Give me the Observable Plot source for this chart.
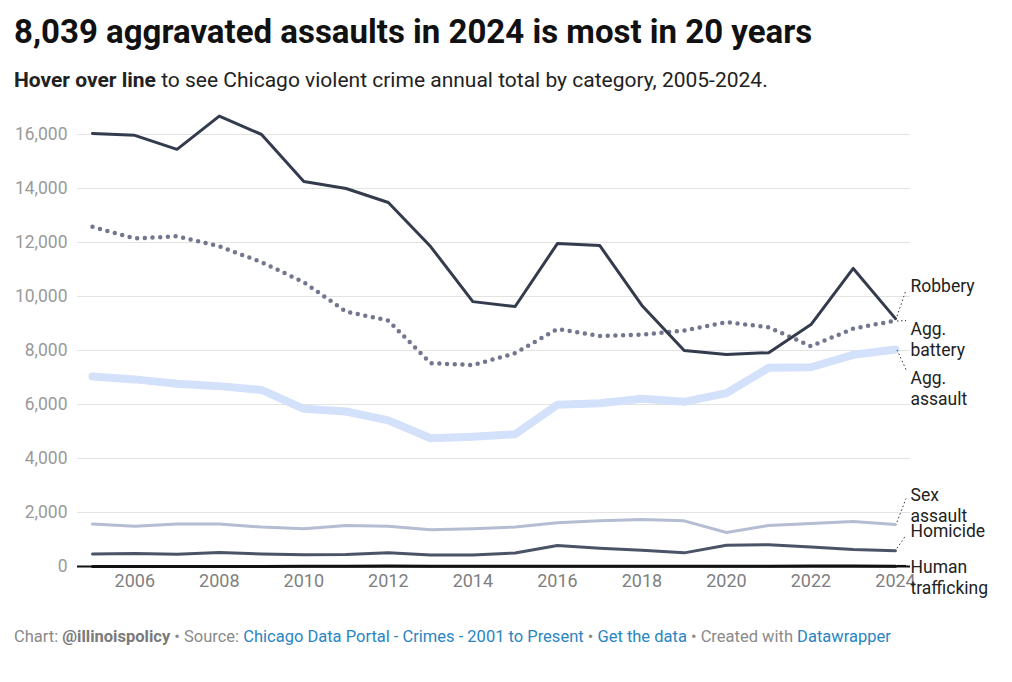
<!DOCTYPE html>
<html>
<head>
<meta charset="utf-8">
<script src="https://cdn.jsdelivr.net/npm/d3@7"></script>
<script src="https://cdn.jsdelivr.net/npm/@observablehq/plot@0.6"></script>
<style>
  html, body { margin: 0; padding: 0; background: #fff; }
  body { width: 1012px; height: 682px; position: relative; font-family: Roboto, "Noto Sans", sans-serif; overflow: hidden; }
  #title { position: absolute; left: 14px; top: 12px; font-size: 33px; font-weight: 700; color: #111; line-height: 40px; white-space: nowrap; }
  #subtitle { position: absolute; left: 14px; top: 66px; font-size: 21px; color: #222; line-height: 28px; white-space: nowrap; }
  #chart { position: absolute; left: 0; top: 100px; }
  #footer { position: absolute; left: 14px; top: 626px; font-size: 16.5px; color: #8a8a8a; line-height: 22px; white-space: nowrap; }
  #footer a { color: #2a85c2; text-decoration: none; }
  #footer b { font-weight: 700; color: #7a7a7a; }
</style>
</head>
<body>
<div id="title">8,039 aggravated assaults in 2024 is most in 20 years</div>
<div id="subtitle"><b>Hover over line</b> to see Chicago violent crime annual total by category, 2005-2024.</div>
<div id="chart"></div>
<div id="footer">Chart: <b>@illinoispolicy</b> • Source: <a>Chicago Data Portal - Crimes - 2001 to Present</a> • <a>Get the data</a> • Created with <a>Datawrapper</a></div>
<script>
// ---- data ----
const years = [2005,2006,2007,2008,2009,2010,2011,2012,2013,2014,2015,2016,2017,2018,2019,2020,2021,2022,2023,2024];
const robbery = [16040,15970,15450,16680,16000,14260,14000,13480,11850,9810,9630,11960,11890,9670,8000,7850,7920,8960,11040,9180];
const aggBattery = [12580,12150,12230,11860,11270,10530,9440,9110,7530,7460,7900,8800,8540,8590,8740,9050,8860,8160,8810,9110];
const aggAssault = [7040,6930,6770,6680,6540,5840,5740,5410,4750,4810,4900,5990,6050,6210,6100,6420,7360,7380,7840,8039];
const sexAssault = [1570,1490,1570,1575,1460,1400,1520,1490,1360,1400,1460,1620,1690,1740,1690,1260,1520,1590,1670,1555];
const homicide = [460,480,450,520,465,435,440,510,425,430,500,780,680,600,505,785,805,720,630,585];
const humanTrafficking = [0,0,1,2,3,5,6,14,11,12,10,10,12,13,12,6,11,17,14,12];
const seriesNames = ["Robbery","Agg. battery","Agg. assault","Sex assault","Homicide","Human trafficking"];
const labelTexts = ["Robbery","Agg.\nbattery","Agg.\nassault","Sex\nassault","Homicide","Human\ntrafficking"];
const yTicks = [0,2000,4000,6000,8000,10000,12000,14000,16000];
const xTicks = [2006,2008,2010,2012,2014,2016,2018,2020,2022,2024];

// ---- styles (layout only) ----
const seriesValues = [robbery, aggBattery, aggAssault, sexAssault, homicide, humanTrafficking];
const styles = {
  "Robbery":          {stroke: "#333b4d", width: 3, dash: null, labelDy: -33, connector: "dotted"},
  "Agg. battery":     {stroke: "#72778f", width: 4.5, dash: "0,7.7", labelDy: 18, connector: "dotted"},
  "Agg. assault":     {stroke: "#d4e1fa", width: 8, dash: null, labelDy: 38, connector: "dotted"},
  "Sex assault":      {stroke: "#b5bdd2", width: 3, dash: null, labelDy: -20, connector: "dotted"},
  "Homicide":         {stroke: "#4b5367", width: 3, dash: null, labelDy: -20, connector: "dotted"},
  "Human trafficking":{stroke: "#111111", width: 3, dash: null, labelDy: 10.5, connector: "solid"}
};
const drawOrder = ["Agg. assault","Sex assault","Homicide","Agg. battery","Robbery","Human trafficking"];
const labelFont = 17.5, labelLineHeight = 1.2;

const rows = [];
seriesNames.forEach((name, i) => {
  years.forEach((yr, j) => rows.push({series: name, year: yr, value: seriesValues[i][j]}));
});
const lastRows = seriesNames.map((name, i) => ({
  series: name, label: labelTexts[i], year: years[years.length - 1], value: seriesValues[i][years.length - 1]
}));

const lineMarks = drawOrder.map(name => {
  const s = styles[name];
  return Plot.line(rows.filter(r => r.series === name), {
    x: "year", y: "value", stroke: s.stroke, strokeWidth: s.width,
    strokeDasharray: s.dash, strokeLinecap: "round", strokeLinejoin: "round"
  });
});

const labelMarks = lastRows.map(r => Plot.text([r], {
  x: "year", y: "value", text: "label", dx: 15, dy: styles[r.series].labelDy,
  textAnchor: "start", lineAnchor: "middle", lineHeight: labelLineHeight,
  fontSize: labelFont, fill: "#222"
}));

const lineHeightPx = labelFont * labelLineHeight;
function connectors(index, scales) {
  const g = d3.create("svg:g");
  lastRows.forEach(r => {
    const s = styles[r.series];
    const x0 = scales.x(r.year), y0 = scales.y(r.value);
    const nLines = r.label.split("\n").length;
    const center = y0 + s.labelDy;
    const firstLine = center - (nLines - 1) * lineHeightPx / 2;
    let yEnd;
    if (s.connector === "solid") yEnd = y0;
    else if (firstLine < y0) yEnd = Math.min(firstLine + 5, y0);
    else yEnd = Math.max(firstLine - 7, y0);
    g.append("line")
      .attr("x1", x0 + 2).attr("y1", y0 + (yEnd < y0 ? -2 : yEnd > y0 ? 1 : 0))
      .attr("x2", x0 + 11).attr("y2", yEnd)
      .attr("stroke", s.connector === "solid" ? "#111" : "#333")
      .attr("stroke-width", s.connector === "solid" ? 1.5 : 1)
      .attr("stroke-dasharray", s.connector === "solid" ? null : "1.5,2.5");
  });
  return g.node();
}

const chart = Plot.plot({
  width: 1012,
  height: 500,
  marginLeft: 92,
  marginRight: 117,
  marginTop: 34,
  marginBottom: 34,
  style: {fontFamily: "Roboto, sans-serif", background: "transparent", overflow: "visible"},
  x: {type: "linear", domain: [2005, 2024]},
  y: {domain: [0, 16000]},
  marks: [
    Plot.ruleY(yTicks.filter(d => d !== 0), {stroke: "#e3e3e3", strokeWidth: 1.2, insetLeft: -15, insetRight: -15}),
    Plot.ruleY([0], {stroke: "#111", strokeWidth: 2, insetLeft: -15, insetRight: -15}),
    Plot.axisY({ticks: yTicks, tickSize: 0, tickPadding: 25, tickFormat: d3.format(","), fontSize: 17.5, fill: "#9a9a9a", label: null}),
    Plot.axisX({ticks: xTicks, tickSize: 0, tickPadding: 8, tickFormat: d => String(d), fontSize: 18, fill: "#7f7f7f", label: null}),
    ...lineMarks,
    connectors,
    ...labelMarks
  ]
});
document.getElementById("chart").appendChild(chart);
</script>
</body>
</html>
